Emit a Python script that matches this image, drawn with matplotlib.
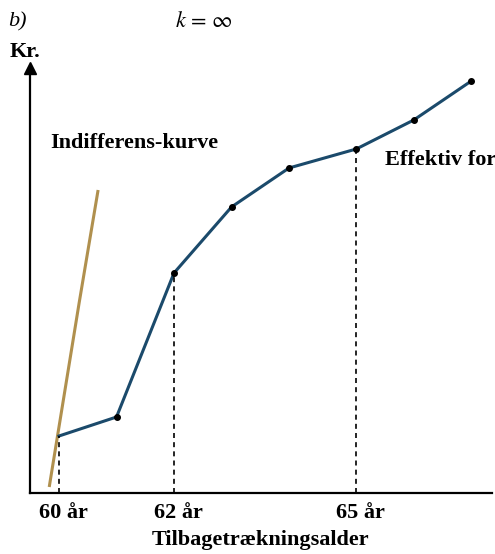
import matplotlib.pyplot as plt
import matplotlib.transforms as mtransforms

plt.rcParams['font.family'] = ['Liberation Serif', 'DejaVu Serif']
plt.rcParams['mathtext.fontset'] = 'stix'

# effektiv kurve (alder, kr. i vilkaarlige enheder)
alder = [60, 61, 62, 63, 64, 65.17, 66.17, 67.17]
kroner = [57, 76, 220, 286, 325, 344, 373, 412]
# indifferenskurve
ind_alder = [59.83, 60.35, 60.68]
ind_kroner = [6, 190, 303]
ticks = [60, 62, 65.17]
tick_labels = ['60 år', '62 år', '65 år']
dashed_at = [0, 2, 5]

fig = plt.figure(figsize=(4.95, 5.54), dpi=100)
ax = fig.add_axes([30/495, 61/554, 462/495, 425/554])
ax.set_xlim(60 - 29/57.5, 60 + 433/57.5)
ax.set_ylim(0, 425)

ax.plot(ind_alder, ind_kroner, color='#b0904e', lw=2.2, solid_capstyle='butt')
ax.plot(alder, kroner, color='#1b4a6b', lw=2.2)
ax.plot(alder[1:], kroner[1:], 'o', color='black', ms=4)
for i in dashed_at:
    ax.plot([alder[i], alder[i]], [0, kroner[i]], color='black', ls=(0, (3, 2.5)), lw=1.2)

for s in ['top', 'right']:
    ax.spines[s].set_visible(False)
for s in ['left', 'bottom']:
    ax.spines[s].set_linewidth(1.6)
ax.set_yticks([])
ax.set_xticks(ticks)
ax.set_xticklabels(tick_labels, fontsize=16, fontweight='bold')
ax.tick_params(axis='x', length=0, pad=7)
shift = mtransforms.ScaledTranslation(4/100, 0, fig.dpi_scale_trans)
for lab in ax.get_xticklabels():
    lab.set_transform(lab.get_transform() + shift)
ax.set_xlabel('Tilbagetrækningsalder', fontsize=16, fontweight='bold', labelpad=5)
ax.plot([0], [1], '^', color='black', ms=8, transform=ax.transAxes, clip_on=False)

fig.text(8/495, 1 - 22/554, 'b)', fontsize=16, style='italic', va='center')
fig.text(175/495, 1 - 22/554, r'$k\,=\,\infty$', fontsize=16, va='center')
fig.text(10/495, 1 - 52/554, 'Kr.', fontsize=16, fontweight='bold', va='center')
fig.text(50/495, 1 - 143/554, 'Indifferens-kurve', fontsize=16, fontweight='bold', va='center')
fig.text(385/495, 1 - 160/554, 'Effektiv forbrugsmulighed', fontsize=16, fontweight='bold', va='center')

fig.savefig('out.png', dpi=100)
